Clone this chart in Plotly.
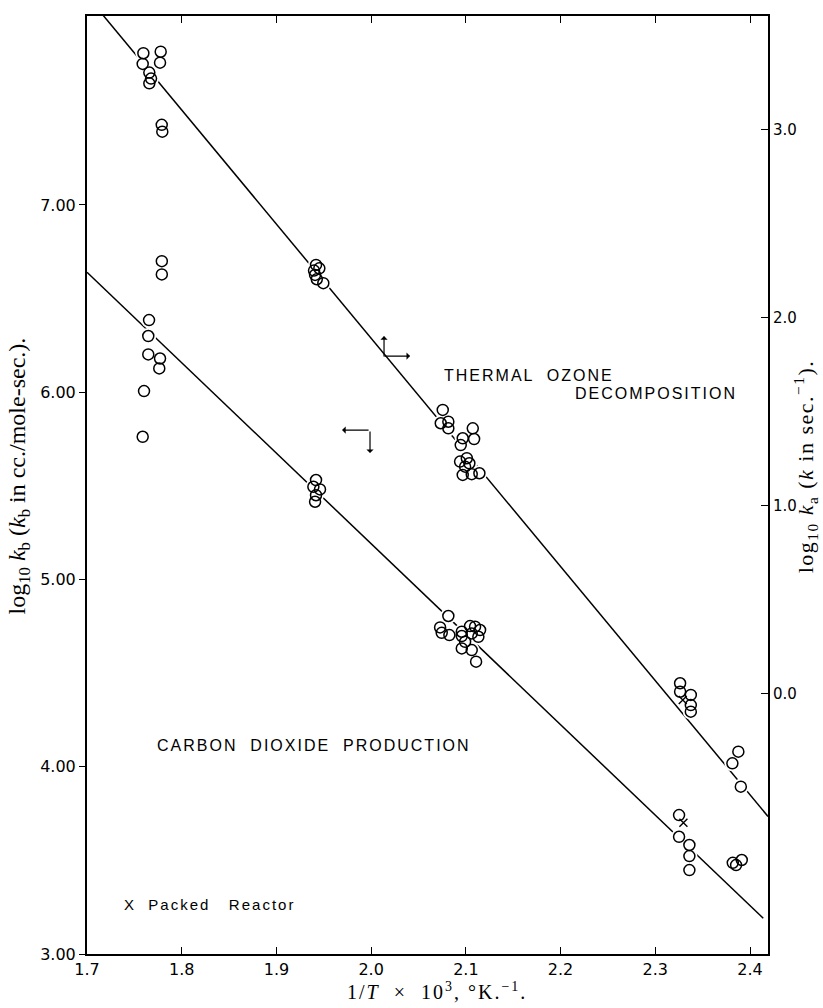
import numpy as np
import plotly.graph_objects as go

# ---------------- data ----------------
# Thermal ozone decomposition (right axis, log10 ka)
ozone_x = [1.7595, 1.7778, 1.7588, 1.7771, 1.7658, 1.7676, 1.7658, 1.7789, 1.7795,
           1.9418, 1.9397, 1.9453, 1.9408, 1.9426, 1.9495,
           2.0756, 2.0735, 2.0815, 2.0815, 2.1073, 2.1087, 2.0967, 2.0946, 2.1010,
           2.0939, 2.1037, 2.0992, 2.0967, 2.1062, 2.1143,
           2.3262, 2.3262, 2.3375, 2.3375, 2.3375,
           2.3877, 2.3814, 2.3903]
ozone_y = [3.408, 3.416, 3.351, 3.358, 3.305, 3.273, 3.248, 3.027, 2.991,
           2.282, 2.252, 2.264, 2.229, 2.206, 2.185,
           1.511, 1.440, 1.448, 1.413, 1.413, 1.356, 1.360, 1.324, 1.254,
           1.236, 1.227, 1.209, 1.165, 1.169, 1.174,
           0.057, 0.012, -0.005, -0.059, -0.094,
           -0.307, -0.369, -0.493]

# Carbon dioxide production (left axis, log10 kb)
co2_x = [1.7790, 1.7790, 1.7655, 1.7647, 1.7647, 1.7771, 1.7763, 1.7602, 1.7588,
         1.9418, 1.9390, 1.9460, 1.9418, 1.9408,
         2.0815, 2.0728, 2.0745, 2.0826, 2.0957, 2.0957, 2.1044, 2.1097, 2.1150,
         2.1062, 2.1132, 2.0992, 2.0957, 2.1062, 2.1108,
         2.3251, 2.3251, 2.3360, 2.3360, 2.3360,
         2.3818, 2.3853, 2.3913]
co2_y = [6.700, 6.629, 6.385, 6.300, 6.202, 6.180, 6.127, 6.006, 5.762,
         5.531, 5.495, 5.481, 5.450, 5.415,
         4.805, 4.744, 4.715, 4.703, 4.721, 4.698, 4.751, 4.748, 4.730,
         4.712, 4.694, 4.667, 4.632, 4.623, 4.561,
         3.742, 3.626, 3.582, 3.523, 3.448,
         3.487, 3.475, 3.502]

# Packed reactor points
packed_ozone_x = [2.3290]
packed_ozone_y = [-0.032]
packed_co2_x = [2.3297]
packed_co2_y = [3.701]

# Fitted lines: y = intercept + slope * x
ozone_fit_intercept, ozone_fit_slope = 14.032, -6.07
co2_fit_intercept, co2_fit_slope = 14.855, -4.832
ozone_fit_xrange = [1.70, 2.419]
co2_fit_xrange = [1.70, 2.414]

x_ticks = [1.7, 1.8, 1.9, 2.0, 2.1, 2.2, 2.3, 2.4]
left_ticks = [3.0, 4.0, 5.0, 6.0, 7.0]
right_ticks = [0.0, 1.0, 2.0, 3.0]

# ---------------- figure ----------------
fig = go.Figure()

ox = np.linspace(*ozone_fit_xrange, 50)
cx = np.linspace(*co2_fit_xrange, 50)
fig.add_trace(go.Scatter(x=ox, y=ozone_fit_intercept + ozone_fit_slope * ox, yaxis="y2",
                         mode="lines", line=dict(color="black", width=1.5),
                         hoverinfo="skip", showlegend=False))
fig.add_trace(go.Scatter(x=cx, y=co2_fit_intercept + co2_fit_slope * cx, yaxis="y",
                         mode="lines", line=dict(color="black", width=1.5),
                         hoverinfo="skip", showlegend=False))

# white halos so the lines break around the circles
halo = dict(symbol="circle", size=16, color="white", line=dict(width=0))
fig.add_trace(go.Scatter(x=ozone_x, y=ozone_y, yaxis="y2", mode="markers",
                         marker=halo, hoverinfo="skip", showlegend=False))
fig.add_trace(go.Scatter(x=co2_x, y=co2_y, yaxis="y", mode="markers",
                         marker=halo, hoverinfo="skip", showlegend=False))

circ = dict(symbol="circle-open", size=11, color="black", line=dict(width=1.5, color="black"))
fig.add_trace(go.Scatter(x=ozone_x, y=ozone_y, yaxis="y2", mode="markers",
                         marker=circ, showlegend=False))
fig.add_trace(go.Scatter(x=co2_x, y=co2_y, yaxis="y", mode="markers",
                         marker=circ, showlegend=False))

xm = dict(symbol="x-thin-open", size=8, color="black", line=dict(width=1.4, color="black"))
fig.add_trace(go.Scatter(x=packed_ozone_x, y=packed_ozone_y, yaxis="y2", mode="markers",
                         marker=xm, showlegend=False))
fig.add_trace(go.Scatter(x=packed_co2_x, y=packed_co2_y, yaxis="y", mode="markers",
                         marker=xm, showlegend=False))

tickfont = dict(family="DejaVu Sans", size=16, color="black")
serif = "Liberation Serif"

fig.update_layout(
    width=823, height=1008, autosize=False,
    margin=dict(l=87, r=55, t=16, b=54),
    paper_bgcolor="white", plot_bgcolor="white",
    showlegend=False,
    xaxis=dict(range=[1.7, 2.419], tickvals=x_ticks, tickformat=".1f",
               ticks="inside", ticklen=7, tickwidth=1.2, tickcolor="black",
               showline=True, linecolor="black", linewidth=2, mirror="ticks",
               showgrid=False, zeroline=False, tickfont=tickfont),
    yaxis=dict(range=[3.0, 8.009], tickvals=left_ticks, tickformat=".2f",
               ticks="outside", ticklen=6, tickwidth=1.2, tickcolor="black",
               showline=True, linecolor="black", linewidth=2,
               showgrid=False, zeroline=False, tickfont=tickfont),
    yaxis2=dict(range=[-1.383, 3.606], tickvals=right_ticks, tickformat=".1f",
                overlaying="y", side="right", anchor="x",
                ticks="inside", ticklen=7, tickwidth=1.2, tickcolor="black",
                showline=True, linecolor="black", linewidth=2,
                showgrid=False, zeroline=False,
                tickfont=dict(family="DejaVu Sans", size=15, color="black")),
)

def sp(txt, ls):
    return f'<span style="letter-spacing:{ls}px">{txt}</span>'

label_font = dict(family="Liberation Sans", size=16, color="black")
annos = [
    dict(x=2.0749, y=6.091, xref="x", yref="y", text=sp("THERMAL  OZONE", 2),
         xanchor="left", yanchor="middle", showarrow=False, font=label_font),
    dict(x=2.2132, y=5.995, xref="x", yref="y", text=sp("DECOMPOSITION", 2),
         xanchor="left", yanchor="middle", showarrow=False, font=label_font),
    dict(x=1.7718, y=4.116, xref="x", yref="y", text=sp("CARBON  DIOXIDE  PRODUCTION", 2),
         xanchor="left", yanchor="middle", showarrow=False, font=label_font),
    dict(x=1.737, y=3.262, xref="x", yref="y", text=sp("X  Packed   Reactor", 2),
         xanchor="left", yanchor="middle", showarrow=False,
         font=dict(family="Liberation Sans", size=15, color="black")),
    # axis titles
    dict(x=0.514, y=-0.0394, xref="paper", yref="paper",
         text=sp("1/<i>T</i>  ×  10<sup>3</sup>, °K.<sup>−1</sup>.", 2),
         xanchor="center", yanchor="middle", showarrow=False,
         font=dict(family=serif, size=20, color="black")),
    dict(x=-0.100, y=0.51, xref="paper", yref="paper", textangle=-90,
         text="log<sub>10</sub> <i>k</i><sub>b</sub> (<i>k</i><sub>b</sub> in cc./mole-sec.).",
         xanchor="center", yanchor="middle", showarrow=False,
         font=dict(family=serif, size=24, color="black")),
    dict(x=1.0545, y=0.52, xref="paper", yref="paper", textangle=-90,
         text=sp("log<sub>10</sub> <i>k</i><sub>a</sub> (<i>k</i> in sec.<sup>−1</sup>).", 1.5),
         xanchor="center", yanchor="middle", showarrow=False,
         font=dict(family=serif, size=22, color="black")),
]
arrow = dict(xref="x", yref="y", text="", showarrow=True, arrowhead=1,
             arrowsize=1, arrowwidth=1.2, arrowcolor="black", axref="pixel", ayref="pixel")
annos += [
    dict(arrow, x=2.0136, y=6.300, ax=0, ay=22),
    dict(arrow, x=2.0411, y=6.193, ax=-27, ay=0),
    dict(arrow, x=1.9693, y=5.798, ax=28, ay=0),
    dict(arrow, x=1.9988, y=5.675, ax=0, ay=-23),
]
fig.update_layout(annotations=annos)

fig.write_html("out.html")
